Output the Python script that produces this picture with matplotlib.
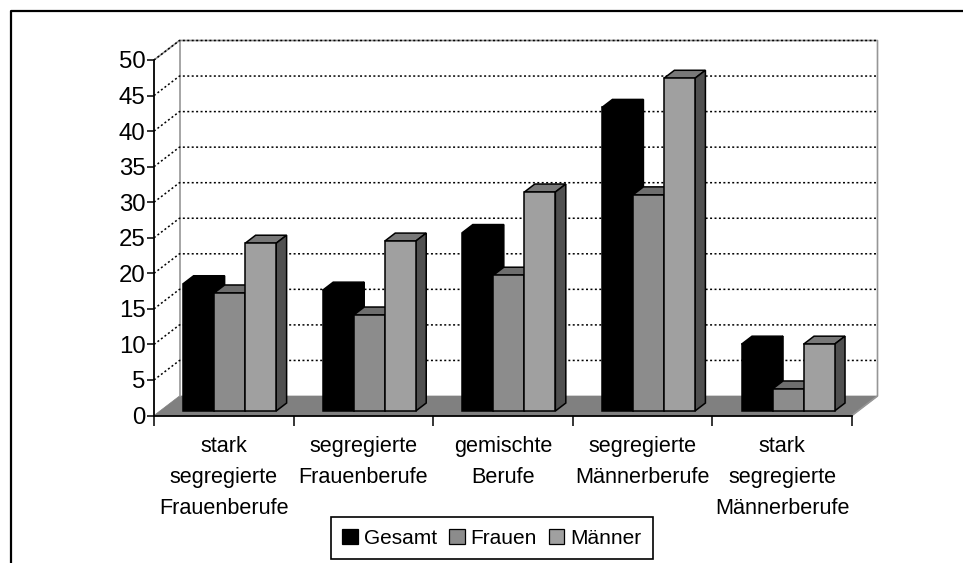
"""Segregated occupations as a pseudo-3D grouped bar chart."""

from __future__ import annotations

import matplotlib

matplotlib.use("Agg")

import matplotlib.pyplot as plt
from matplotlib.lines import Line2D
from matplotlib.patches import Patch, Polygon

categories = [
    "stark\nsegregierte\nFrauenberufe",
    "segregierte\nFrauenberufe",
    "gemischte\nBerufe",
    "segregierte\nMännerberufe",
    "stark\nsegregierte\nMännerberufe",
]
gesamt = [17.9, 17.0, 25.1, 42.7, 9.4]
frauen = [16.6, 13.5, 19.1, 30.4, 3.1]
maenner = [23.6, 23.9, 30.8, 46.8, 9.4]
series_names = ["Gesamt", "Frauen", "Männer"]
y_ticks = list(range(0, 55, 5))

WIDTH, HEIGHT = 963, 563
LEFT, RIGHT, BASE, TOP = 154, 852, 415.5, 60

# colours: front, top, side
COLORS = [
    ("#000000", "#000000", "#000000"),
    ("#8c8c8c", "#6e6e6e", "#505050"),
    ("#a0a0a0", "#787878", "#505050"),
]
WALL = "#969696"
FLOOR = "#808080"

px_x = 5 / (RIGHT - LEFT)
px_y = 50 / (BASE - TOP)
depth_x = 25.5 * px_x
depth_y = 19.5 * px_y
bar_width = 31 * px_x
near, far = 0.23, 0.64


def draw_bar(ax, x, value, colors, order):
    x0 = x + near * depth_x
    y0 = near * depth_y
    step_x = (far - near) * depth_x
    step_y = (far - near) * depth_y
    front, top, side = colors
    ax.bar(
        x0,
        value,
        bar_width,
        bottom=y0,
        align="edge",
        facecolor=front,
        edgecolor="black",
        linewidth=1.1,
        zorder=order + 0.2,
        clip_on=False,
    )
    ax.add_patch(
        Polygon(
            [
                (x0, y0 + value),
                (x0 + step_x, y0 + value + step_y),
                (x0 + bar_width + step_x, y0 + value + step_y),
                (x0 + bar_width, y0 + value),
            ],
            facecolor=top,
            edgecolor="black",
            linewidth=1.1,
            zorder=order,
            clip_on=False,
        )
    )
    ax.add_patch(
        Polygon(
            [
                (x0 + bar_width, y0),
                (x0 + bar_width + step_x, y0 + step_y),
                (x0 + bar_width + step_x, y0 + value + step_y),
                (x0 + bar_width, y0 + value),
            ],
            facecolor=side,
            edgecolor="black",
            linewidth=1.1,
            zorder=order,
            clip_on=False,
        )
    )


def main() -> None:
    plt.rcParams["font.family"] = ["Liberation Sans", "DejaVu Sans"]

    figure = plt.figure(figsize=(WIDTH / 100, HEIGHT / 100), dpi=100)
    ax = figure.add_axes(
        [
            LEFT / WIDTH,
            1 - BASE / HEIGHT,
            (RIGHT - LEFT) / WIDTH,
            (BASE - TOP) / HEIGHT,
        ]
    )
    ax.set_xlim(0, 5)
    ax.set_ylim(0, 50)
    ax.patch.set_visible(False)

    # outer frame, only left and top are inside the crop
    figure.add_artist(
        Line2D(
            [11 / WIDTH, 11 / WIDTH, 1],
            [0, 1 - 10.5 / HEIGHT, 1 - 10.5 / HEIGHT],
            color="black",
            linewidth=1.6,
        )
    )

    # floor and walls
    ax.add_patch(
        Polygon(
            [(0, 0), (depth_x, depth_y), (5 + depth_x, depth_y), (5, 0)],
            facecolor=FLOOR,
            edgecolor=FLOOR,
            linewidth=0.5,
            zorder=1,
            clip_on=False,
        )
    )
    ax.plot(
        [0, depth_x, 5 + depth_x, 5 + depth_x, 5],
        [50, 50 + depth_y, 50 + depth_y, depth_y, 0],
        color=WALL,
        linewidth=1.2,
        zorder=2,
        clip_on=False,
    )
    ax.plot(
        [depth_x, depth_x],
        [depth_y, 50 + depth_y],
        color=WALL,
        linewidth=1.2,
        zorder=2,
        clip_on=False,
    )
    for tick in y_ticks[1:]:
        ax.plot(
            [0, depth_x, 5 + depth_x],
            [tick, tick + depth_y, tick + depth_y],
            color="black",
            linewidth=1.1,
            linestyle=(0, (1.3, 1.6)),
            zorder=3,
            clip_on=False,
        )

    order = 4
    for index in range(len(categories)):
        values = [gesamt[index], frauen[index], maenner[index]]
        start = index + 0.5 - 1.5 * bar_width
        for position, value in enumerate(values):
            draw_bar(
                ax, start + position * bar_width, value, COLORS[position], order
            )
            order += 1

    for name, spine in ax.spines.items():
        spine.set_visible(name in ("left", "bottom"))
        spine.set_linewidth(1.3)
        spine.set_zorder(40)

    ax.set_yticks(y_ticks)
    ax.set_xticks(range(6))
    ax.set_xticklabels([])
    ax.set_xticks([i + 0.5 for i in range(5)], labels=categories, minor=True)
    ax.tick_params(axis="y", labelsize=17.3, length=5, width=1.1, pad=1)
    ax.tick_params(axis="x", which="major", length=7.5, width=1.1)
    ax.tick_params(axis="x", which="minor", length=0, labelsize=15.6, pad=15)
    for label in ax.get_xticklabels(minor=True):
        label.set_linespacing(1.62)

    handles = [
        Patch(facecolor=COLORS[i][0], edgecolor="black", linewidth=0.9, label=name)
        for i, name in enumerate(series_names)
    ]
    legend = ax.legend(
        handles=handles,
        ncol=3,
        loc="center",
        bbox_to_anchor=(492 / WIDTH, 1 - 538 / HEIGHT),
        bbox_transform=figure.transFigure,
        fontsize=15,
        frameon=True,
        fancybox=False,
        framealpha=1,
        edgecolor="black",
        handlelength=0.75,
        handleheight=0.75,
        handletextpad=0.3,
        columnspacing=0.55,
        borderpad=0.55,
        borderaxespad=0,
    )
    legend.get_frame().set_linewidth(1.2)

    figure.savefig("out.png", dpi=100)


if __name__ == "__main__":
    main()
